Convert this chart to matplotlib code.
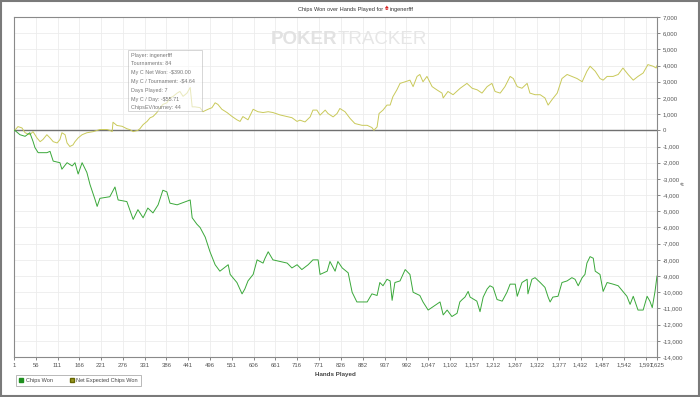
import matplotlib
matplotlib.use("Agg")
import matplotlib.pyplot as plt
from matplotlib.lines import Line2D
from matplotlib.patches import Rectangle

plt.rcParams['font.family'] = ['Liberation Sans', 'DejaVu Sans']

# Chips Won (green)
chips_hands = [1, 3, 16, 29, 41, 49, 54, 62, 84, 92, 100, 117, 122, 135, 148, 155, 163, 173, 185, 193,
               206, 211, 218, 243, 256, 264, 286, 302, 314, 327, 339, 352, 365, 377, 387, 395, 413, 446,
               451, 463, 471, 484, 496, 509, 521, 542, 547, 564, 577, 584, 592, 605, 615, 630, 635, 643,
               655, 691, 703, 716, 728, 744, 756, 769, 774, 792, 799, 812, 819, 830, 845, 855, 867, 893,
               905, 918, 925, 933, 943, 951, 956, 963, 976, 989, 1001, 1009, 1026, 1034, 1047, 1059,
               1077, 1085, 1095, 1107, 1120, 1127, 1133, 1140, 1148, 1153, 1170, 1178, 1186, 1196,
               1203, 1211, 1221, 1234, 1246, 1254, 1267, 1272, 1284, 1297, 1299, 1309, 1317, 1330,
               1342, 1350, 1355, 1362, 1375, 1385, 1398, 1410, 1418, 1426, 1436, 1443, 1448, 1456,
               1464, 1469, 1481, 1489, 1499, 1514, 1527, 1539, 1549, 1557, 1565, 1577, 1590, 1600,
               1607, 1613, 1620, 1625]
chips_won = [0, 0, -270, -370, -150, -680, -1070, -1380, -1380, -1300, -1900, -2000, -2400, -2000,
             -2200, -2000, -2700, -2000, -2600, -3350, -4300, -4700, -4200, -4100, -3500, -4300, -4400,
             -5500, -4900, -5400, -4800, -5100, -4600, -3700, -3800, -4500, -4600, -4300, -5400, -5800,
             -6000, -6600, -7500, -8300, -8700, -8300, -8900, -9400, -10100, -9800, -9300, -8900, -8000,
             -8200, -7900, -7500, -8000, -8200, -8500, -8300, -8600, -8300, -8000, -8000, -8900, -8700,
             -8100, -8700, -8100, -8500, -8800, -10000, -10600, -10600, -10100, -10200, -9400, -9600,
             -9200, -9300, -10500, -9400, -9300, -8600, -8900, -10000, -10200, -10600, -11100, -10900,
             -10600, -11400, -11100, -11500, -11300, -10600, -10450, -10300, -9950, -10300, -10550,
             -11200, -10300, -9800, -9600, -9700, -10450, -10550, -10000, -9500, -9500, -10250, -9400,
             -9200, -10100, -9200, -9100, -9400, -9700, -10300, -10600, -10300, -10250, -9400, -9300,
             -9100, -9200, -9600, -9100, -8900, -8200, -7800, -7900, -8700, -8900, -9950, -9400, -9500,
             -9600, -9950, -10250, -10750, -10250, -11100, -11100, -10250, -10550, -10950, -9950, -9000]

# Net Expected Chips Won (yellow)
ev_hands = [1, 3, 11, 21, 29, 41, 49, 59, 67, 74, 84, 92, 100, 110, 117, 122, 130, 135, 142, 150, 155,
            163, 173, 185, 201, 218, 236, 243, 249, 251, 261, 274, 286, 294, 302, 314, 319, 327, 337,
            345, 352, 362, 370, 377, 387, 395, 403, 413, 420, 428, 438, 446, 451, 458, 471, 478, 491,
            501, 509, 516, 526, 539, 552, 564, 572, 579, 592, 605, 617, 630, 643, 655, 673, 691, 703,
            716, 723, 736, 749, 756, 766, 774, 787, 794, 807, 817, 824, 837, 850, 862, 880, 893, 905,
            910, 918, 923, 933, 943, 951, 958, 968, 976, 989, 1001, 1009, 1019, 1026, 1034, 1044, 1057,
            1069, 1082, 1085, 1097, 1110, 1128, 1145, 1158, 1171, 1183, 1196, 1208, 1216, 1229, 1241,
            1254, 1262, 1272, 1284, 1297, 1304, 1317, 1330, 1342, 1350, 1360, 1373, 1385, 1398, 1410,
            1423, 1436, 1448, 1456, 1469, 1481, 1489, 1499, 1514, 1527, 1539, 1552, 1565, 1577, 1590,
            1602, 1615, 1623, 1625]
ev_won = [0, 0, 230, 150, -150, -270, -80, -470, -700, -570, -270, -470, -700, -780, -570, -150, -270,
          -780, -1000, -900, -700, -470, -270, -150, -80, 50, 50, 0, -80, 500, 300, 250, 100, 40, -80, 0,
          100, 350, 550, 780, 850, 1100, 1400, 1600, 1700, 2000, 2100, 2300, 2400, 2100, 2300, 2650,
          1450, 1450, 1400, 1150, 1300, 1400, 1700, 1600, 1300, 1100, 850, 650, 550, 850, 650, 1300,
          1150, 1100, 1150, 1100, 950, 850, 780, 550, 630, 520, 830, 1250, 1250, 940, 1250, 1040, 830,
          1040, 1350, 1150, 730, 420, 310, 310, 170, 0, 210, 1040, 1250, 1560, 1560, 2080, 2500, 2900,
          3000, 3100, 2700, 3330, 3450, 3000, 3330, 2700, 2500, 2300, 2000, 2400, 2200, 2600, 2900,
          2600, 2500, 2300, 2700, 2900, 2400, 2300, 2700, 3330, 3200, 2700, 2600, 2900, 2300, 2200,
          2200, 2000, 1560, 1900, 2300, 3200, 3450, 3330, 3200, 3000, 3650, 3960, 3650, 3200, 3100,
          3330, 3330, 3450, 3850, 3450, 3100, 3330, 3540, 4060, 3960, 3850, 4000]

x_ticks = [1, 56, 111, 166, 221, 276, 331, 386, 441, 496, 551, 606, 661, 716, 771, 826, 882, 937,
           992, 1047, 1102, 1157, 1212, 1267, 1322, 1377, 1432, 1487, 1542, 1597, 1625]
y_ticks = list(range(-14000, 7001, 1000))

tooltip_lines = ["Player: ingenerfff", "Tournaments: 84", "My C Net Won: -$390.00",
                 "My C / Tournament: -$4.64", "Days Played: 7", "My C / Day: -$55.71",
                 "ChipsEV/tourney: 44"]

W, H = 700, 397
fig = plt.figure(figsize=(7, 3.97), dpi=100)
fig.patch.set_facecolor('white')
ax = fig.add_axes([14 / W, 1 - 357 / H, 643 / W, 340 / H])

ax.plot(ev_hands, ev_won, color='#c9c95a', lw=0.7, zorder=3)
ax.plot(chips_hands, chips_won, color='#3aa83a', lw=0.7, zorder=4)
ax.axhline(0, color='#707070', lw=1.0, zorder=2)

ax.set_xlim(1, 1625)
ax.set_ylim(-14000, 7000)
ax.set_xticks(x_ticks)
ax.set_xticklabels([f"{t:,}" for t in x_ticks])
ax.yaxis.tick_right()
ax.set_yticks(y_ticks)
ax.set_yticklabels([f"{t:,}" for t in y_ticks])
ax.tick_params(axis='both', labelsize=4.3, colors='#555555', length=2.5, width=0.5, pad=1.5)
ax.grid(True, color='#ececec', lw=0.6, zorder=0)
for s in ax.spines.values():
    s.set_color('#8a8a8a')
    s.set_linewidth(0.8)

ax.set_xlabel('Hands Played', fontsize=4.5, color='#444444', fontweight='bold', labelpad=3)
fig.text(683 / W, 1 - 183 / H, '#', fontsize=4.5, color='#444444', ha='center', va='center', rotation=90)

# watermark
fig.text(337 / W, 1 - 39 / H, 'POKER', fontsize=13.5, color='#e2e2e2', fontweight='bold',
         ha='right', va='center')
fig.text(338 / W, 1 - 39 / H, 'TRACKER', fontsize=13.5, color='#e6e6e6', ha='left', va='center')

# title
t1 = fig.text(298 / W, 1 - 9 / H, 'Chips Won over Hands Played for ', fontsize=4.1,
              color='#333333', va='center', ha='left')
t2 = ax.annotate('\u2660', xy=(1, 0.5), xycoords=t1, va='center', ha='left', fontsize=5,
                 color='#d62020', annotation_clip=False)
ax.annotate(' ingenerfff', xy=(1, 0.5), xycoords=t2, va='center', ha='left', fontsize=4.1,
            color='#333333', annotation_clip=False)

# tooltip box
ax.add_patch(Rectangle((128 / W, 1 - 111 / H), 74 / W, 61 / H, transform=fig.transFigure,
                       facecolor='white', alpha=0.6, edgecolor='#b0b0b0', lw=0.6, zorder=5))
for i, line in enumerate(tooltip_lines):
    fig.text(131 / W, 1 - (55 + i * 8.8) / H, line, fontsize=3.9, color='#777777',
             va='center', ha='left', zorder=6)

# legend
handles = [Line2D([], [], marker='s', ls='none', color='#1e8f1e', markersize=3),
           Line2D([], [], marker='s', ls='none', color='#999922', markersize=3,
                  markeredgecolor='#666600')]
leg = fig.legend(handles, ['Chips Won', 'Net Expected Chips Won'], loc='lower left',
                 bbox_to_anchor=(13 / W, 1 - 389 / H), ncol=2, fontsize=4.0, frameon=True,
                 fancybox=False, edgecolor='#999999', handlelength=0.8, handletextpad=0.4,
                 columnspacing=3.0, borderpad=0.6)
leg.get_frame().set_linewidth(0.6)
for txt in leg.get_texts():
    txt.set_color('#444444')

# outer frame
fig.patches.append(Rectangle((0.001, 0.002), 0.997, 0.996, transform=fig.transFigure,
                             fill=False, edgecolor='#7a7a7a', lw=1.5))

fig.savefig('out.png', dpi=100)
